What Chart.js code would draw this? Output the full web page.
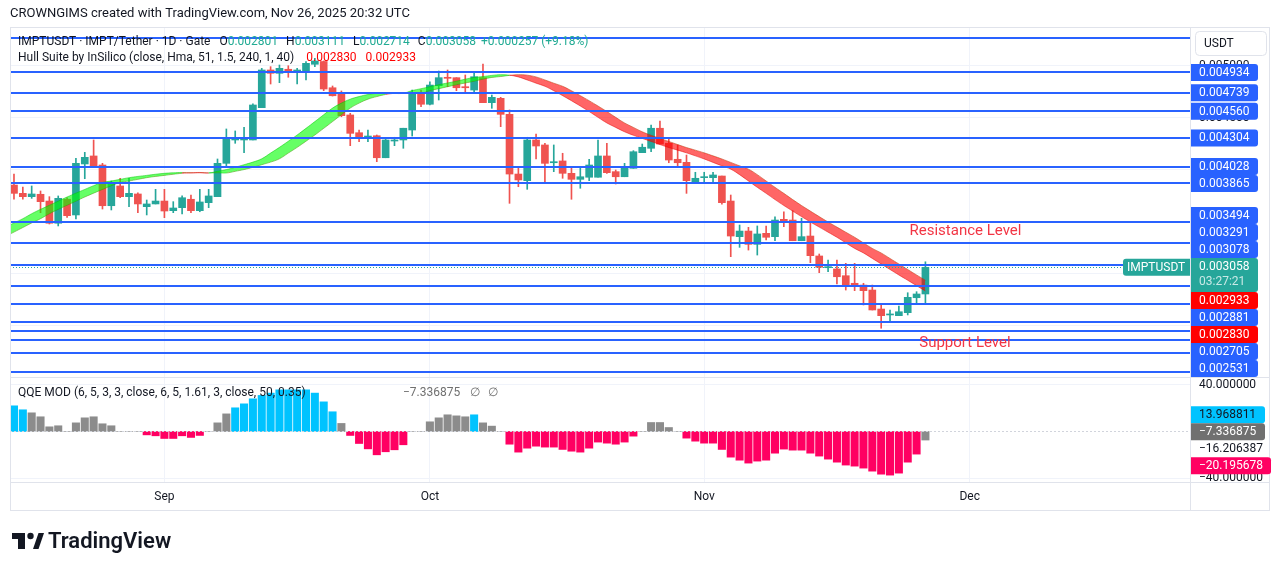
<!DOCTYPE html>
<html>
<head>
<meta charset="utf-8">
<title>IMPTUSDT · 1D · Gate</title>
<script src="https://cdn.jsdelivr.net/npm/chart.js@4.4.1/dist/chart.umd.min.js"></script>
<style>
  html, body { margin: 0; padding: 0; background: #ffffff; }
  #box { width: 1281px; height: 571px; }
</style>
</head>
<body>
<div id="box"><canvas id="chart" width="1281" height="571"></canvas></div>
<script>
// ── DATES ─────────────────────────────────
const firstDay = '2025-08-15';
const monthStarts = ['2025-09-01', '2025-10-01', '2025-11-01', '2025-12-01'];
const monthLabels = ['Sep', 'Oct', 'Nov', 'Dec'];

// ── DAILY CANDLES (IMPT / USDT) ───────────
const opens = [
  0.003850, 0.003770, 0.003738, 0.003761, 0.003696, 0.003482, 0.003713, 0.003562, 0.004053, 0.004130,
  0.004043, 0.003651, 0.003841, 0.003738, 0.003764, 0.003642, 0.003668, 0.003696, 0.003603, 0.003632,
  0.003713, 0.003603, 0.003680, 0.003738, 0.004059, 0.004284, 0.004284, 0.004284, 0.004595, 0.004958,
  0.004926, 0.004965, 0.004936, 0.004951, 0.005013, 0.005040, 0.004787, 0.004734, 0.004525, 0.004354,
  0.004310, 0.004325, 0.004113, 0.004274, 0.004284, 0.004380, 0.004743, 0.004628, 0.004807, 0.004884,
  0.004884, 0.004797, 0.004765, 0.004884, 0.004643, 0.004685, 0.004531, 0.003956, 0.003892, 0.004284,
  0.004236, 0.004065, 0.004082, 0.003963, 0.003905, 0.003925, 0.003925, 0.004130, 0.003979, 0.003930,
  0.004011, 0.004162, 0.004204, 0.004397, 0.004252, 0.004098, 0.004069, 0.003882, 0.003921, 0.003921,
  0.003937, 0.003696, 0.003353, 0.003407, 0.003279, 0.003385, 0.003353, 0.003520, 0.003513, 0.003314,
  0.003359, 0.003167, 0.003054, 0.003042, 0.002977, 0.002904, 0.002887, 0.002839, 0.002656, 0.002599,
  0.002592, 0.002621, 0.002765, 0.002801
];
const highs = [
  0.003956, 0.003831, 0.003841, 0.003793, 0.003738, 0.003745, 0.003728, 0.004108, 0.004165, 0.004284,
  0.004059, 0.003889, 0.003915, 0.003915, 0.003776, 0.003706, 0.003809, 0.003809, 0.003690, 0.003745,
  0.003754, 0.003809, 0.003809, 0.004101, 0.004390, 0.004371, 0.004406, 0.004631, 0.004974, 0.004990,
  0.005006, 0.004999, 0.004974, 0.005038, 0.005071, 0.005045, 0.004804, 0.004756, 0.004541, 0.004380,
  0.004380, 0.004332, 0.004300, 0.004310, 0.004397, 0.004765, 0.004765, 0.004845, 0.004948, 0.004958,
  0.004884, 0.004910, 0.004926, 0.005016, 0.004717, 0.004695, 0.004573, 0.004021, 0.004310, 0.004342,
  0.004252, 0.004236, 0.004156, 0.004021, 0.004021, 0.004098, 0.004284, 0.004252, 0.003995, 0.004059,
  0.004181, 0.004245, 0.004428, 0.004467, 0.004291, 0.004236, 0.004139, 0.003973, 0.003973, 0.003973,
  0.003937, 0.003754, 0.003465, 0.003443, 0.003456, 0.003456, 0.003545, 0.003593, 0.003603, 0.003530,
  0.003497, 0.003186, 0.003128, 0.003128, 0.003096, 0.003096, 0.002904, 0.002887, 0.002711, 0.002647,
  0.002685, 0.002813, 0.002823, 0.003111
];
const lows = [
  0.003713, 0.003713, 0.003722, 0.003584, 0.003475, 0.003456, 0.003539, 0.003523, 0.003911, 0.004033,
  0.003619, 0.003610, 0.003728, 0.003642, 0.003584, 0.003562, 0.003668, 0.003536, 0.003584, 0.003571,
  0.003584, 0.003593, 0.003632, 0.003738, 0.004036, 0.004252, 0.004162, 0.004284, 0.004595, 0.004823,
  0.004836, 0.004888, 0.004823, 0.004862, 0.004990, 0.004759, 0.004707, 0.004508, 0.004229, 0.004267,
  0.004267, 0.004075, 0.004113, 0.004229, 0.004204, 0.004322, 0.004605, 0.004621, 0.004669, 0.004797,
  0.004759, 0.004734, 0.004749, 0.004643, 0.004589, 0.004412, 0.003674, 0.003834, 0.003809, 0.004101,
  0.003873, 0.003979, 0.003915, 0.003713, 0.003819, 0.003892, 0.003925, 0.003963, 0.003860, 0.003930,
  0.004011, 0.004162, 0.004171, 0.004245, 0.004065, 0.004027, 0.003770, 0.003882, 0.003873, 0.003873,
  0.003665, 0.003160, 0.003250, 0.003224, 0.003176, 0.003321, 0.003314, 0.003449, 0.003314, 0.003314,
  0.003102, 0.003006, 0.003015, 0.002897, 0.002839, 0.002833, 0.002695, 0.002647, 0.002471, 0.002544,
  0.002592, 0.002599, 0.002704, 0.002714
];
const closes = [
  0.003770, 0.003738, 0.003764, 0.003690, 0.003482, 0.003722, 0.003555, 0.004059, 0.004117, 0.004033,
  0.003651, 0.003867, 0.003738, 0.003770, 0.003668, 0.003668, 0.003696, 0.003600, 0.003629, 0.003728,
  0.003603, 0.003687, 0.003745, 0.004059, 0.004293, 0.004293, 0.004293, 0.004621, 0.004958, 0.004926,
  0.004974, 0.004936, 0.004958, 0.005022, 0.005045, 0.004775, 0.004710, 0.004518, 0.004348, 0.004316,
  0.004322, 0.004113, 0.004284, 0.004284, 0.004397, 0.004743, 0.004628, 0.004813, 0.004884, 0.004878,
  0.004787, 0.004787, 0.004893, 0.004643, 0.004695, 0.004531, 0.003956, 0.003899, 0.004284, 0.004226,
  0.004059, 0.004075, 0.003963, 0.003905, 0.003930, 0.004043, 0.004130, 0.003969, 0.003930, 0.004027,
  0.004171, 0.004214, 0.004397, 0.004245, 0.004091, 0.004065, 0.003892, 0.003915, 0.003930, 0.003947,
  0.003680, 0.003359, 0.003407, 0.003279, 0.003379, 0.003347, 0.003513, 0.003507, 0.003314, 0.003353,
  0.003170, 0.003058, 0.003064, 0.002967, 0.002887, 0.002887, 0.002833, 0.002647, 0.002592, 0.002608,
  0.002630, 0.002769, 0.002801, 0.003058
];

// ── HULL SUITE (starts 3 days before the first candle) ──
const hull = [
  0.003353, 0.003397, 0.003441,
  0.003485, 0.003526, 0.003574, 0.003616, 0.003655, 0.003695, 0.003735, 0.003772, 0.003808, 0.003844,
  0.003875, 0.003889, 0.003905, 0.003921, 0.003933, 0.003943, 0.003954, 0.003963, 0.003968, 0.003971,
  0.003967, 0.003968, 0.003966, 0.003982, 0.003999, 0.004021, 0.004046, 0.004071, 0.004103, 0.004158,
  0.004213, 0.004272, 0.004332, 0.004396, 0.004461, 0.004527, 0.004591, 0.004639, 0.004677, 0.004702,
  0.004722, 0.004733, 0.004735, 0.004732, 0.004734, 0.004760, 0.004778, 0.004797, 0.004816, 0.004833,
  0.004850, 0.004870, 0.004886, 0.004895, 0.004906, 0.004913, 0.004908, 0.004891, 0.004862, 0.004831,
  0.004801, 0.004758, 0.004711, 0.004662, 0.004611, 0.004558, 0.004502, 0.004448, 0.004405, 0.004363,
  0.004329, 0.004299, 0.004270, 0.004240, 0.004211, 0.004186, 0.004160, 0.004131, 0.004101, 0.004068,
  0.004035, 0.004003, 0.003950, 0.003889, 0.003828, 0.003770, 0.003710, 0.003653, 0.003599, 0.003546,
  0.003494, 0.003445, 0.003396, 0.003347, 0.003293, 0.003240, 0.003196, 0.003143, 0.003090, 0.003037,
  0.002984, 0.002933, 0.002881, 0.002830
];

// ── QQE MOD HISTOGRAM ─────────────────────
const qqeHist = [
  22.0, 18.6, 16.0, 12.6, 4.0, 4.9, 0, 7.4, 11.7, 12.6,
  6.6, 4.9, 0, 0, 0, -2.9, -3.7, -6.0, -6.0, -3.7,
  -5.1, -3.4, 0, 7.4, 15.1, 20.3, 23.7, 28.0, 30.9, 32.9,
  35.7, 35.7, 35.7, 35.7, 32.9, 25.4, 16.9, 6.9, -3.4, -10.3,
  -14.9, -20.0, -17.4, -15.7, -11.4, 0, 0, 8.3, 11.7, 14.3,
  13.4, 12.6, 14.3, 7.4, 4.6, 0, -10.9, -17.7, -14.3, -12.6,
  -13.4, -13.4, -15.4, -16.9, -17.7, -14.3, -9.1, -10.0, -10.9, -9.1,
  -4.0, 0, 7.7, 7.7, 3.4, 0, -5.7, -8.3, -10.0, -10.0,
  -15.4, -22.0, -24.6, -27.1, -25.4, -24.6, -18.6, -15.1, -16.0, -16.0,
  -18.6, -21.1, -23.7, -26.3, -28.8, -29.7, -31.4, -34.0, -36.6, -37.4,
  -35.7, -26.3, -19.4, -7.336875
];
// b = strong up, g = neutral, r = strong down
const qqeTone = (
  'bbgggggggg' + 'gggggrrrrr' + 'rrgggbbbbb' + 'bbbbbbbgrr' + 'rrrrrggggg' +
  'ggbgggrrrr' + 'rrrrrrrrrr' + 'rgggggrrrr' + 'rrrrrrrrrr' + 'rrrrrrrrrr' + 'rrrg'
).split('');
const qqeSideValues = [13.968811, -7.336875, -16.206387, -20.195678];
const qqeSideTones  = ['b', 'g', 'line', 'r'];

// ── DRAWN LEVELS & NOTES ──────────────────
const levelPrices = [
  0.005269, 0.004934, 0.004739, 0.004560, 0.004304, 0.004028, 0.003865, 0.003494, 0.003291,
  0.003078, 0.002881, 0.002705, 0.002531, 0.002442, 0.002355, 0.002230, 0.002052
];
const levelTagged = [
  false, true, true, true, true, true, true, true, true,
  true, true, true, true, false, false, false, false
];
const noteTexts  = ['Resistance Level', 'Support Level'];
const noteDays   = [101.2, 102.3];
const notePrices = [0.003407, 0.002329];

// ── AXES RANGES ───────────────────────────
const priceMin = 0.0020015, priceMax = 0.005372;
const priceTicks = [0.0025, 0.003, 0.0035, 0.004, 0.0045, 0.005];
const qqeMin = -43.3, qqeMax = 46.7;
const qqeTicks = [40, -40];
const dayMin = -0.45, dayMax = 132.9;


// ── COLOURS & FONTS ───────────────────────
const FONT = 'Roboto, "Noto Sans", sans-serif';
const INK = '#131722';
const UP = '#26a69a', DOWN = '#ef5350';
const BLUE = '#2962ff', FRAME = '#e0e3eb', GRID = '#f0f3fa';
const QQE_COL = { b: '#00c3ff', g: '#8c8c8c', r: '#ff0062' };
const HULL_UP = 'rgba(0,255,0,0.6)', HULL_DN = 'rgba(255,0,0,0.6)';
const HULL_UP_LINE = 'rgba(0,200,0,0.5)', HULL_DN_LINE = 'rgba(230,0,0,0.5)';

const dayOf = d => Math.round((Date.parse(d) - Date.parse(firstDay)) / 86400000);
const monthIdx = monthStarts.map(dayOf);
const fmt = v => v.toFixed(6);
const signed = v => (v < 0 ? '\u2212' : '') + Math.abs(v).toFixed(6);

const days = opens.map((_, i) => i);
const candleTone = days.map(i => closes[i] >= opens[i] ? UP : DOWN);

// hull band points: day -1 .. last day; cur = hull[k+2], prev = hull[k]
const hullDays = [-1, ...days];
const hullCur = hullDays.map((d, k) => ({ x: d, y: hull[k + 2] }));
const hullPrev = hullDays.map((d, k) => ({ x: d, y: hull[k] }));
const hullRising = k => hull[k + 2] >= hull[k];


// ── TAG STACKING ON THE PRICE SCALE ───────
function placeTags(tags, lo, hi) {
  tags.sort((a, b) => a.want - b.want);
  let groups = tags.map(t => [t]);
  const fit = g => {
    let off = 0, sum = 0, fixed = null;
    g.forEach(t => {
      t.off = off + t.anchor;
      off += t.h;
      sum += t.want - t.off;
      if (t.fixed) fixed = t.want - t.off;
    });
    let top = fixed !== null ? fixed : sum / g.length;
    top = Math.min(Math.max(top, lo), hi - off);
    g.top = top;
    g.bottom = top + off;
  };
  let merged = true;
  while (merged) {
    merged = false;
    groups.forEach(fit);
    for (let k = 0; k < groups.length - 1; k++) {
      if (groups[k].bottom > groups[k + 1].top + 0.5) {
        groups.splice(k, 2, groups[k].concat(groups[k + 1]));
        merged = true;
        break;
      }
    }
  }
  groups.forEach(g => g.forEach(t => { t.y = g.top + t.off; }));
}

function drawTag(ctx, left, t) {
  const top = t.y - t.anchor;
  const w = Math.ceil(ctx.measureText(t.text).width) + 16;
  if (t.bg) {
    ctx.fillStyle = t.bg;
    ctx.beginPath();
    ctx.roundRect(left, top, w, t.h, [0, 3, 3, 0]);
    ctx.fill();
  }
  ctx.fillStyle = t.fg;
  ctx.fillText(t.text, left + 8, t.y + 0.5);
  if (t.sub) {
    ctx.fillStyle = 'rgba(255,255,255,0.75)';
    ctx.fillText(t.sub, left + 8, t.y + 15.5);
  }
}

function drawRun(ctx, x, y, parts) {
  parts.forEach(([text, color, gap]) => {
    ctx.fillStyle = color;
    ctx.fillText(text, x, y);
    x += ctx.measureText(text).width + (gap || 0);
  });
  return x;
}


// ── DECORATION PLUGIN ─────────────────────
const decor = {
  id: 'decor',

  beforeDraw(chart) {
    const { ctx, width, height } = chart;
    ctx.save();
    ctx.fillStyle = '#ffffff';
    ctx.fillRect(0, 0, width, height);
    ctx.restore();
  },

  afterDatasetsDraw(chart) {
    const { ctx, chartArea: a, scales: { x, y, q } } = chart;
    ctx.save();
    ctx.beginPath();
    ctx.rect(a.left, a.top, a.right - a.left, a.bottom - a.top);
    ctx.clip();

    // horizontal levels
    ctx.strokeStyle = BLUE;
    ctx.lineWidth = 2;
    levelPrices.forEach(p => {
      const py = Math.round(y.getPixelForValue(p));
      ctx.beginPath();
      ctx.moveTo(a.left, py);
      ctx.lineTo(a.right, py);
      ctx.stroke();
    });

    // last price line
    const lastY = Math.round(y.getPixelForValue(closes[closes.length - 1])) + 0.5;
    ctx.strokeStyle = UP;
    ctx.lineWidth = 1;
    ctx.setLineDash([1, 2]);
    ctx.beginPath();
    ctx.moveTo(a.left, lastY);
    ctx.lineTo(a.right, lastY);
    ctx.stroke();

    // QQE zero line
    const zy = Math.round(q.getPixelForValue(0)) + 0.5;
    ctx.strokeStyle = '#d1d4dc';
    ctx.setLineDash([2, 2]);
    ctx.beginPath();
    ctx.moveTo(a.left, zy);
    ctx.lineTo(a.right, zy);
    ctx.stroke();
    ctx.setLineDash([]);

    // text notes
    ctx.font = '15px ' + FONT;
    ctx.fillStyle = '#f23645';
    ctx.textBaseline = 'middle';
    noteTexts.forEach((t, k) => {
      ctx.fillText(t, x.getPixelForValue(noteDays[k]), y.getPixelForValue(notePrices[k]));
    });
    ctx.restore();
  },

  afterDraw(chart) {
    const { ctx, chartArea: a, scales: { x, y, q } } = chart;
    const right = y.right;
    const n = closes.length - 1;
    ctx.save();

    // frame and pane separators
    ctx.strokeStyle = FRAME;
    ctx.lineWidth = 1;
    ctx.strokeRect(a.left + 0.5, a.top + 0.5, right - a.left - 1, x.bottom - a.top - 1);
    ctx.beginPath();
    ctx.moveTo(a.left, Math.round(q.top) + 0.5);   ctx.lineTo(right, Math.round(q.top) + 0.5);
    ctx.moveTo(a.left, Math.round(a.bottom) + 0.5); ctx.lineTo(right, Math.round(a.bottom) + 0.5);
    ctx.moveTo(Math.round(a.right) + 0.5, a.top);   ctx.lineTo(Math.round(a.right) + 0.5, x.bottom);
    ctx.stroke();

    // header
    ctx.textBaseline = 'middle';
    ctx.font = '13px ' + FONT;
    ctx.fillStyle = INK;
    ctx.fillText('CROWNGIMS created with TradingView.com, Nov 26, 2025 20:32 UTC', 10, 14);

    // legends
    const LEG = '#22ab94';
    const chg = closes[n] - closes[n - 1];
    const pct = chg / closes[n - 1] * 100;
    ctx.font = '12px ' + FONT;
    drawRun(ctx, 18, 42, [
      ['IMPTUSDT \u00b7 IMPT/Tether \u00b7 1D \u00b7 Gate', INK, 9],
      ['O', INK, 0], [fmt(opens[n]), LEG, 8],
      ['H', INK, 0], [fmt(highs[n]), LEG, 8],
      ['L', INK, 0], [fmt(lows[n]), LEG, 8],
      ['C', INK, 0], [fmt(closes[n]), LEG, 5],
      [(chg >= 0 ? '+' : '\u2212') + fmt(Math.abs(chg)) + ' (' + (pct >= 0 ? '+' : '') + pct.toFixed(2) + '%)', LEG, 0]
    ]);
    drawRun(ctx, 18, 58, [
      ['Hull Suite by InSilico (close, Hma, 51, 1.5, 240, 1, 40)', INK, 12],
      [fmt(hull[hull.length - 1]), '#ff0000', 9],
      [fmt(hull[hull.length - 3]), '#ff0000', 0]
    ]);
    drawRun(ctx, 18, 393, [
      ['QQE MOD (6, 5, 3, 3, close, 6, 5, 1.61, 3, close, 50, 0.35)', INK, 0]
    ]);
    drawRun(ctx, 403, 393, [
      [signed(qqeHist[n]), '#707070', 10], ['\u2205', '#707070', 8], ['\u2205', '#707070', 0]
    ]);

    // USDT box
    ctx.strokeStyle = FRAME;
    ctx.beginPath();
    ctx.roundRect(1195.5, 31.5, 71, 24, 4);
    ctx.stroke();
    ctx.fillStyle = INK;
    ctx.fillText('USDT', 1204, 44);

    // price scale tags
    const tags = [];
    levelPrices.forEach((p, k) => {
      if (levelTagged[k]) tags.push({ want: y.getPixelForValue(p), h: 17, anchor: 8.5, text: fmt(p), bg: BLUE, fg: '#ffffff' });
    });
    tags.push({ want: y.getPixelForValue(hull[hull.length - 3]), h: 17, anchor: 8.5, text: fmt(hull[hull.length - 3]), bg: '#ff0000', fg: '#ffffff' });
    tags.push({ want: y.getPixelForValue(hull[hull.length - 1]), h: 17, anchor: 8.5, text: fmt(hull[hull.length - 1]), bg: '#ff0000', fg: '#ffffff' });
    const lastTag = { want: y.getPixelForValue(closes[n]), h: 34, anchor: 8.5, text: fmt(closes[n]), sub: '03:27:21', bg: UP, fg: '#ffffff', fixed: true };
    tags.push(lastTag);
    placeTags(tags, y.top, y.bottom);
    ctx.font = '12px ' + FONT;
    tags.forEach(t => drawTag(ctx, Math.round(a.right) + 1, t));

    // symbol tag left of the scale
    const sw = Math.ceil(ctx.measureText('IMPTUSDT').width) + 8;
    ctx.fillStyle = UP;
    ctx.beginPath();
    ctx.roundRect(a.right - sw, lastTag.want - 8.5, sw, 17, [3, 0, 0, 3]);
    ctx.fill();
    ctx.fillStyle = '#ffffff';
    ctx.fillText('IMPTUSDT', a.right - sw + 4, lastTag.want + 0.5);

    // QQE scale tags
    const qtags = qqeSideValues.map((v, k) => {
      const tone = qqeSideTones[k];
      const bg = tone === 'b' ? QQE_COL.b : tone === 'g' ? '#707070' : tone === 'r' ? QQE_COL.r : null;
      const fg = (tone === 'g' || tone === 'r') ? '#ffffff' : INK;
      return { want: q.getPixelForValue(v), h: 17, anchor: 8.5, text: signed(v), bg, fg };
    });
    placeTags(qtags, q.top, q.bottom);
    qtags.forEach(t => drawTag(ctx, Math.round(a.right) + 1, t));

    // TradingView logo
    ctx.fillStyle = INK;
    ctx.fillRect(12, 533, 13, 6);
    ctx.fillRect(18, 533, 7, 16);
    ctx.beginPath();
    ctx.arc(30.5, 536, 3.2, 0, Math.PI * 2);
    ctx.fill();
    ctx.beginPath();
    ctx.moveTo(33, 549); ctx.lineTo(38.5, 549); ctx.lineTo(44, 533); ctx.lineTo(38.5, 533);
    ctx.closePath();
    ctx.fill();
    ctx.font = '600 22px ' + FONT;
    ctx.fillText('TradingView', 48, 542);
    ctx.restore();
  }
};


// ── CHART ─────────────────────────────────
Chart.defaults.font.family = FONT;
Chart.defaults.font.size = 12;
Chart.defaults.color = INK;

new Chart(document.getElementById('chart'), {
  type: 'bar',
  data: {
    datasets: [
      {
        type: 'bar', label: 'QQE MOD',
        data: days.map(i => ({ x: i, y: qqeHist[i] })),
        backgroundColor: days.map(i => QQE_COL[qqeTone[i]]),
        barThickness: 7.4, grouped: false, yAxisID: 'q', order: 6
      },
      {
        type: 'bar', label: 'wicks',
        data: days.map(i => ({ x: i, y: [lows[i], highs[i]] })),
        backgroundColor: candleTone,
        barThickness: 1, grouped: false, yAxisID: 'y', order: 5
      },
      {
        type: 'bar', label: 'bodies',
        data: days.map(i => ({ x: i, y: [opens[i], closes[i]] })),
        backgroundColor: candleTone,
        barThickness: 7, minBarLength: 1, grouped: false, yAxisID: 'y', order: 4
      },
      {
        type: 'line', label: 'SHULL',
        data: hullPrev, yAxisID: 'y', order: 3,
        borderWidth: 1, pointRadius: 0, tension: 0.4, fill: false,
        segment: { borderColor: c => hullRising(c.p1DataIndex) ? HULL_UP_LINE : HULL_DN_LINE }
      },
      {
        type: 'line', label: 'MHULL',
        data: hullCur, yAxisID: 'y', order: 2,
        borderWidth: 1, pointRadius: 0, tension: 0.4,
        fill: { target: '-1', above: HULL_UP, below: HULL_DN },
        segment: { borderColor: c => hullRising(c.p1DataIndex) ? HULL_UP_LINE : HULL_DN_LINE }
      }
    ]
  },
  options: {
    responsive: false,
    animation: false,
    devicePixelRatio: 1,
    layout: { padding: { top: 27, left: 10, right: 11, bottom: 60 } },
    plugins: {
      legend: { display: false },
      tooltip: { enabled: false }
    },
    scales: {
      x: {
        type: 'linear', min: dayMin, max: dayMax, offset: false,
        grid: { offset: false, color: GRID, drawTicks: false },
        border: { display: false },
        afterBuildTicks: s => { s.ticks = monthIdx.map(v => ({ value: v })); },
        afterFit: s => { s.height = 29; },
        ticks: {
          autoSkip: false, maxRotation: 0, padding: 8, color: INK,
          callback: v => monthLabels[monthIdx.indexOf(v)]
        }
      },
      y: {
        type: 'linear', position: 'right', stack: 'panes', stackWeight: 350,
        min: priceMin, max: priceMax,
        grid: { color: GRID, drawTicks: false },
        border: { display: false },
        afterBuildTicks: s => { s.ticks = priceTicks.map(v => ({ value: v })); },
        afterFit: s => { s.width = 80; },
        ticks: { padding: 9, color: INK, callback: v => fmt(v) }
      },
      q: {
        type: 'linear', position: 'right', stack: 'panes', stackWeight: 105,
        min: qqeMin, max: qqeMax,
        grid: { color: GRID, drawTicks: false },
        border: { display: false },
        afterBuildTicks: s => { s.ticks = qqeTicks.map(v => ({ value: v })); },
        afterFit: s => { s.width = 80; },
        ticks: { padding: 9, color: INK, callback: v => signed(v) }
      }
    }
  },
  plugins: [decor]
});
</script>
</body>
</html>
